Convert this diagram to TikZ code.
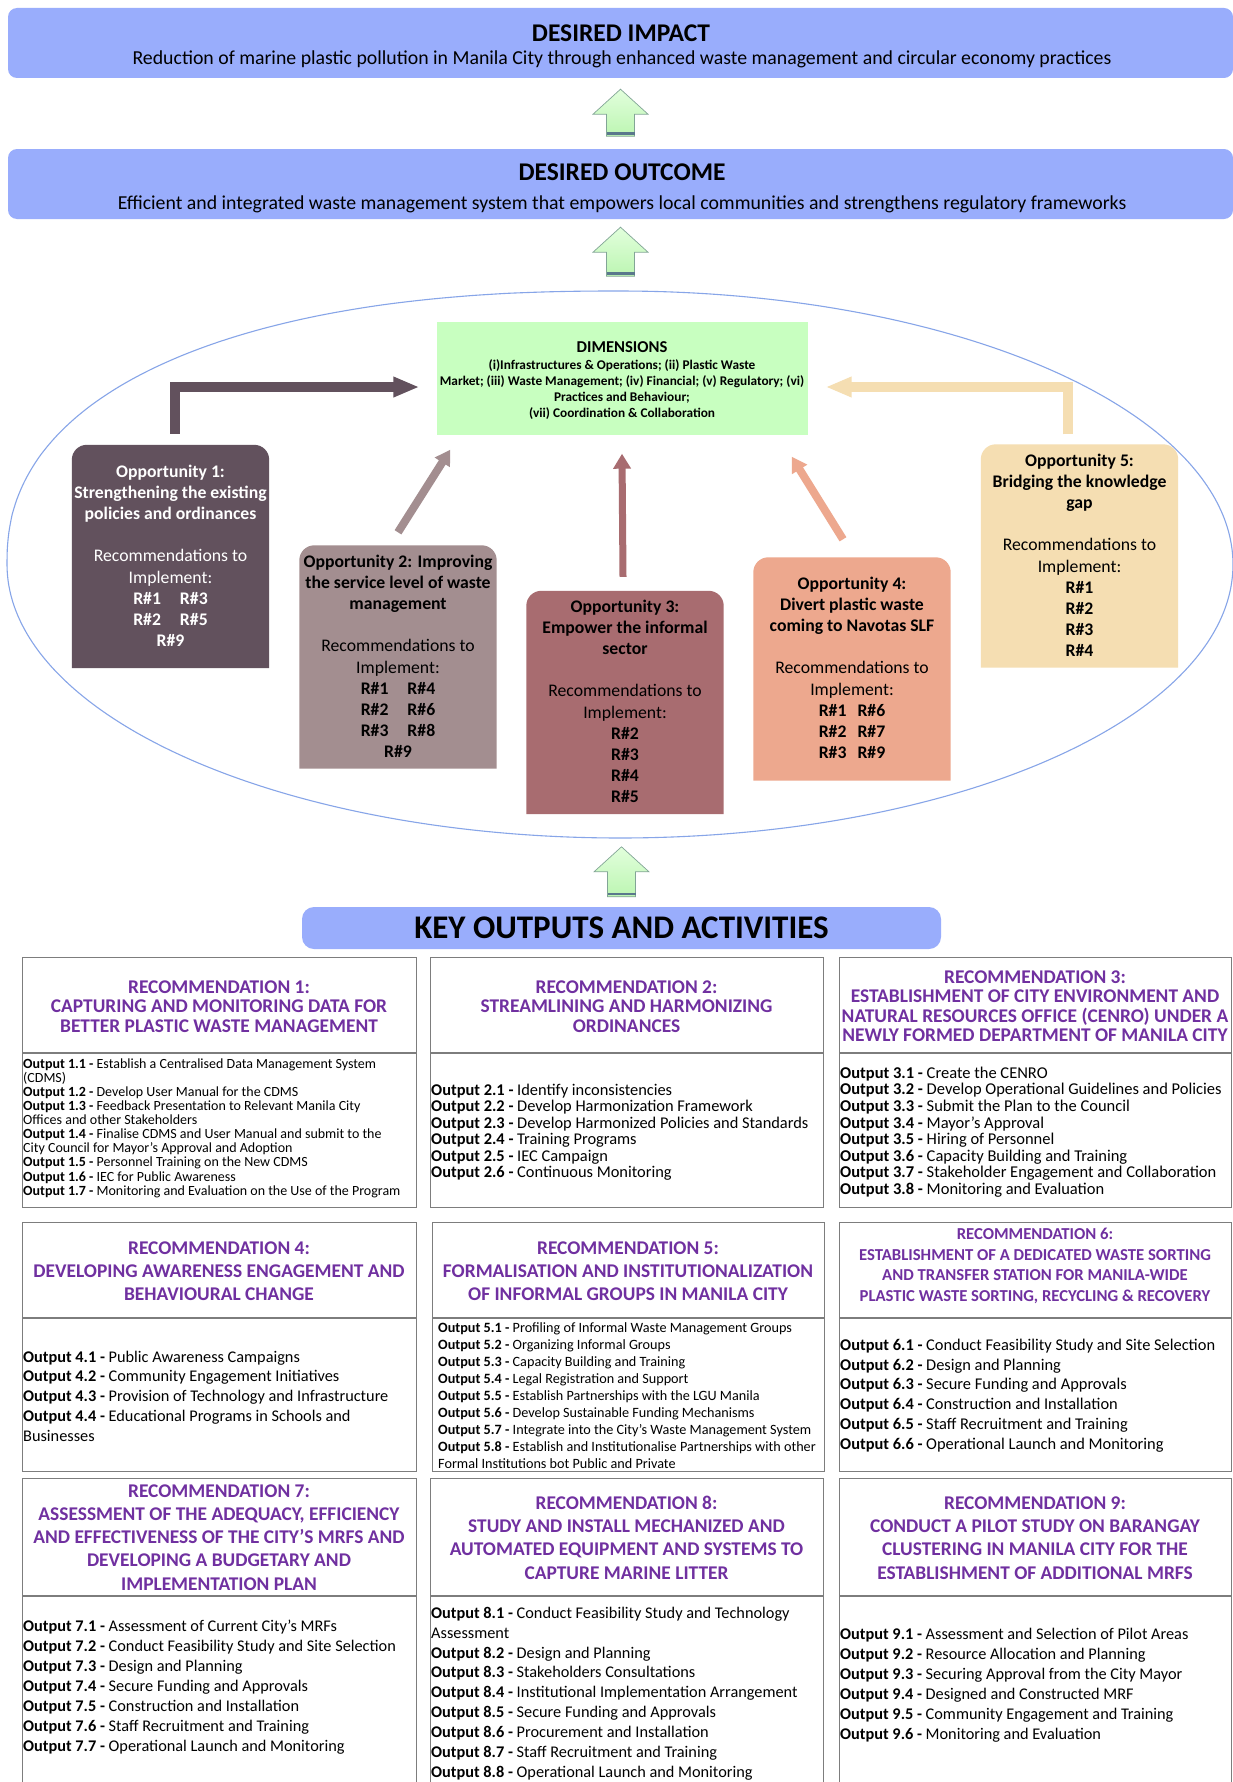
\documentclass[tikz,border=0pt]{standalone}
\usepackage{fontspec}
\setmainfont{Carlito}
\usetikzlibrary{arrows.meta}
\definecolor{peri}{RGB}{153,173,252}
\definecolor{dimg}{RGB}{200,255,192}
\definecolor{oppA}{RGB}{98,81,93}
\definecolor{oppB}{RGB}{163,142,144}
\definecolor{oppC}{RGB}{168,108,112}
\definecolor{oppD}{RGB}{237,168,142}
\definecolor{oppE}{RGB}{245,222,178}
\definecolor{recp}{RGB}{112,48,160}
\definecolor{gridc}{RGB}{125,125,125}
\definecolor{ellc}{RGB}{135,165,232}
\definecolor{gtop}{RGB}{226,255,220}
\definecolor{gbot}{RGB}{188,245,178}
\definecolor{gedge}{RGB}{130,165,150}
\definecolor{gband}{RGB}{90,120,140}
\newcommand{\setfs}[2]{\fontsize{#1pt}{#2pt}\selectfont}
\newcommand{\ob}[1]{\textbf{Output #1 -}}
\newcommand{\sr}{\rule{0pt}{0.8em}}
\newcommand{\oppfill}[2]{\fill[#2] (#1.south west) {[rounded corners=15pt] -- (#1.north west) -- (#1.north east)} -- (#1.south east) -- cycle;}
\begin{document}
\begin{tikzpicture}[x=1pt,y=-1pt,
  topbox/.style={fill=peri, rounded corners=9pt, inner sep=0pt},
  ttl/.style={font=\setfs{25.5}{30}\bfseries, anchor=base, inner sep=0pt},
  subt/.style={font=\setfs{19.8}{24}, anchor=base, inner sep=0pt},
  opptxt/.style={anchor=north, align=center, inner sep=0pt, font=\setfs{17.7}{21.2}},
  oppbox/.style={inner sep=0pt, minimum width=197pt, minimum height=223pt},
  gridbox/.style={draw=gridc, line width=1.2pt, inner sep=0pt, anchor=north west},
  divl/.style={draw=gridc, line width=1.2pt},
  rhead/.style={anchor=north, align=center, inner sep=0pt, text=recp},
  outs/.style={anchor=north west, align=left, inner sep=0pt},
  bigarr/.style={line width=10pt, line join=miter, -{Triangle[length=26pt,width=19pt]}},
  smarr/.style={line width=8pt, -{Triangle[length=15pt,width=17pt]}},
  pics/garrow/.style={code={
    \path[top color=gtop, bottom color=gbot, draw=gedge, line width=0.7pt]
      (-14,#1) -- (-14,25) -- (-27.5,25) -- (0,0) -- (27.5,25) -- (14,25) -- (14,#1) -- cycle;
    \fill[gband] (-14,#1-4) rectangle (14,#1-1.5);
  }}
]
\useasboundingbox (0,0) rectangle (1233,1782);
\fill[white] (0,0) rectangle (1233,1782);

% ---------- top boxes ----------
\node[topbox, minimum width=1225pt, minimum height=70pt] (impact) at (620.5,43) {};
\node[ttl] (impT) at (621,41.5) {DESIRED IMPACT};
\node[subt] (impS) at (622,64.5) {Reduction of marine plastic pollution in Manila City through enhanced waste management and circular economy practices};

\node[topbox, minimum width=1225pt, minimum height=70pt] (outcome) at (620.5,184) {};
\node[ttl] (outT) at (622,180) {DESIRED OUTCOME};
\node[subt] (outS) at (622,209) {Efficient and integrated waste management system that empowers local communities and strengthens regulatory frameworks};

\pic at ([yshift=-11pt]impact.south) {garrow=47};
\pic at ([yshift=-8pt]outcome.south) {garrow=49};

% ---------- ellipse ----------
\draw[ellc, line width=1.1pt]
  plot[domain=90.5:179.5, samples=60, smooth] ({620-613*abs(cos(\x))^0.87}, {564.5-273.5*abs(sin(\x))^0.87})
  -- plot[domain=180:450, samples=200, smooth] ({620+613*cos(\x)}, {564.5-273.5*sin(\x)}) -- cycle;

% ---------- dimensions ----------
\node[fill=dimg, inner sep=0pt, minimum width=371pt, minimum height=113pt] (dims) at (622,378) {};
\node[font=\setfs{16.6}{20}\bfseries, anchor=base, inner sep=0pt] (dimsT) at (622,352.5) {DIMENSIONS};
\node[font=\setfs{13.3}{16}\bfseries, anchor=north, align=center, inner sep=0pt] (dimsB) at (622,358.4)
 {\sr(i)Infrastructures \& Operations; (ii) Plastic Waste\\Market; (iii) Waste Management; (iv) Financial; (v) Regulatory; (vi)\\Practices and Behaviour;\\(vii) Coordination \& Collaboration};

% ---------- opportunity boxes ----------
\node[oppbox] (o1) at (170.5,556.5) {};
\oppfill{o1}{oppA}
\node[oppbox] (o2) at (398,657) {};
\oppfill{o2}{oppB}
\node[oppbox] (o3) at (625,702.5) {};
\oppfill{o3}{oppC}
\node[oppbox] (o4) at (852,669) {};
\oppfill{o4}{oppD}
\node[oppbox] (o5) at (1079.5,556) {};
\oppfill{o5}{oppE}

\node[opptxt, text=white] (o1t) at (170.5,462.8) {\sr\textbf{Opportunity 1:}\\\textbf{Strengthening the existing}\\\textbf{policies and ordinances}\\[21.2pt]Recommendations to\\Implement:\\\textbf{R\#1\hspace{19pt}R\#3}\\\textbf{R\#2\hspace{19pt}R\#5}\\\textbf{R\#9}};
\node[opptxt] (o2t) at (398,552.8) {\sr\textbf{Opportunity 2: Improving}\\\textbf{the service level of waste}\\\textbf{management}\\[21.2pt]Recommendations to\\Implement:\\\textbf{R\#1\hspace{19pt}R\#4}\\\textbf{R\#2\hspace{19pt}R\#6}\\\textbf{R\#3\hspace{19pt}R\#8}\\\textbf{R\#9}};
\node[opptxt] (o3t) at (625,597.8) {\sr\textbf{Opportunity 3:}\\\textbf{Empower the informal}\\\textbf{sector}\\[21.2pt]Recommendations to\\Implement:\\\textbf{R\#2}\\\textbf{R\#3}\\\textbf{R\#4}\\\textbf{R\#5}};
\node[opptxt] (o4t) at (852,574.8) {\sr\textbf{Opportunity 4:}\\\textbf{Divert plastic waste}\\\textbf{coming to Navotas SLF}\\[21.2pt]Recommendations to\\Implement:\\\textbf{R\#1\hspace{11pt}R\#6}\\\textbf{R\#2\hspace{11pt}R\#7}\\\textbf{R\#3\hspace{11pt}R\#9}};
\node[opptxt] (o5t) at (1079.5,451.8) {\sr\textbf{Opportunity 5:}\\\textbf{Bridging the knowledge}\\\textbf{gap}\\[21.2pt]Recommendations to\\Implement:\\\textbf{R\#1}\\\textbf{R\#2}\\\textbf{R\#3}\\\textbf{R\#4}};

% ---------- opportunity arrows ----------
\coordinate (a1s) at ([xshift=4.5pt,yshift=11pt]o1.north);
\coordinate (a1e) at ([xshift=-17pt,yshift=-9pt]dims.west);
\draw[bigarr, draw=oppA] (a1s) |- (a1e);
\coordinate (a5s) at ([xshift=-11.5pt,yshift=10pt]o5.north);
\coordinate (a5e) at ([xshift=18pt,yshift=-9pt]dims.east);
\draw[bigarr, draw=oppE] (a5s) |- (a5e);
\coordinate (a2s) at ([yshift=13pt]o2.north);
\coordinate (a2e) at ([xshift=14pt,yshift=-15pt]dims.south west);
\draw[smarr, draw=oppB] (a2s) -- (a2e);
\coordinate (a3s) at ([xshift=-2pt,yshift=14pt]o3.north);
\coordinate (a3e) at ([yshift=-19pt]dims.south);
\draw[smarr, line width=7pt, draw=oppC] (a3s) -- (a3e);
\coordinate (a4s) at ([xshift=-9pt,yshift=18pt]o4.north);
\coordinate (a4e) at ([xshift=-16pt,yshift=-22pt]dims.south east);
\draw[smarr, draw=oppD] (a4s) -- (a4e);

% ---------- key outputs banner ----------
\node[fill=peri, rounded corners=12pt, inner sep=0pt, minimum width=639pt, minimum height=42pt] (banner) at (621.5,928) {};
\node[font=\setfs{33}{38}\bfseries, anchor=base, inner sep=0pt] (bannerT) at (621.5,938) {KEY OUTPUTS AND ACTIVITIES};
\pic at ([yshift=60pt]banner.north) {garrow=50};

% ---------- recommendation grid ----------
\node[gridbox, minimum width=394pt, minimum height=250pt] (r1) at (22,957) {};
\node[gridbox, minimum width=393pt, minimum height=250pt] (r2) at (430,957) {};
\node[gridbox, minimum width=392pt, minimum height=250pt] (r3) at (839,957) {};
\node[gridbox, minimum width=394pt, minimum height=249pt] (r4) at (22,1222) {};
\node[gridbox, minimum width=392pt, minimum height=249pt] (r5) at (432,1222) {};
\node[gridbox, minimum width=392pt, minimum height=249pt] (r6) at (839,1222) {};
\node[gridbox, minimum width=394pt, minimum height=320pt] (r7) at (22,1478) {};
\node[gridbox, minimum width=393pt, minimum height=320pt] (r8) at (430,1478) {};
\node[gridbox, minimum width=392pt, minimum height=320pt] (r9) at (839,1478) {};
\foreach \b in {r1,r2,r3} {\draw[divl] ([yshift=-96pt]\b.north west) -- ([yshift=-96pt]\b.north east);}
\foreach \b in {r4,r5,r6} {\draw[divl] ([yshift=-96pt]\b.north west) -- ([yshift=-96pt]\b.north east);}
\foreach \b in {r7,r8,r9} {\draw[divl] ([yshift=-118pt]\b.north west) -- ([yshift=-118pt]\b.north east);}

% headers
\node[rhead, font=\setfs{19.4}{19.5}\bfseries] (h1) at (219,977.5) {\sr RECOMMENDATION 1:\\CAPTURING AND MONITORING DATA FOR\\BETTER PLASTIC WASTE MANAGEMENT};
\node[rhead, font=\setfs{19.4}{19.5}\bfseries] (h2) at (626.5,977.5) {\sr RECOMMENDATION 2:\\STREAMLINING AND HARMONIZING\\ORDINANCES};
\node[rhead, font=\setfs{19.4}{19.5}\bfseries] (h3) at (1035,967.5) {\sr RECOMMENDATION 3:\\ESTABLISHMENT OF CITY ENVIRONMENT AND\\NATURAL RESOURCES OFFICE (CENRO) UNDER A\\NEWLY FORMED DEPARTMENT OF MANILA CITY};
\node[rhead, font=\setfs{19.4}{23}\bfseries] (h4) at (219,1238.5) {\sr RECOMMENDATION 4:\\DEVELOPING AWARENESS ENGAGEMENT AND\\BEHAVIOURAL CHANGE};
\node[rhead, font=\setfs{19.4}{23}\bfseries] (h5) at (628,1238.5) {\sr RECOMMENDATION 5:\\FORMALISATION AND INSTITUTIONALIZATION\\OF INFORMAL GROUPS IN MANILA CITY};
\node[rhead, font=\setfs{16.7}{20.6}\bfseries] (h6) at (1035,1226) {\sr RECOMMENDATION 6:\\ESTABLISHMENT OF A DEDICATED WASTE SORTING\\AND TRANSFER STATION FOR MANILA-WIDE\\PLASTIC WASTE SORTING, RECYCLING \& RECOVERY};
\node[rhead, font=\setfs{19.4}{23.2}\bfseries] (h7) at (219,1481.5) {\sr RECOMMENDATION 7:\\ASSESSMENT OF THE ADEQUACY, EFFICIENCY\\AND EFFECTIVENESS OF THE CITY’S MRFS AND\\DEVELOPING A BUDGETARY AND\\IMPLEMENTATION PLAN};
\node[rhead, font=\setfs{19.4}{23.3}\bfseries] (h8) at (626.5,1493.5) {\sr RECOMMENDATION 8:\\STUDY AND INSTALL MECHANIZED AND\\AUTOMATED EQUIPMENT AND SYSTEMS TO\\CAPTURE MARINE LITTER};
\node[rhead, font=\setfs{19.4}{23.3}\bfseries] (h9) at (1035,1493.5) {\sr RECOMMENDATION 9:\\CONDUCT A PILOT STUDY ON BARANGAY\\CLUSTERING IN MANILA CITY FOR THE\\ESTABLISHMENT OF ADDITIONAL MRFS};

% outputs
\node[outs, font=\setfs{14}{14.1}] (t1) at (23,1056.8) {\sr\ob{1.1} Establish a Centralised Data Management System\\(CDMS)\\\ob{1.2} Develop User Manual for the CDMS\\\ob{1.3} Feedback Presentation to Relevant Manila City\\Offices and other Stakeholders\\\ob{1.4} Finalise CDMS and User Manual and submit to the\\City Council for Mayor's Approval and Adoption\\\ob{1.5} Personnel Training on the New CDMS\\\ob{1.6} IEC for Public Awareness\\\ob{1.7} Monitoring and Evaluation on the Use of the Program};
\node[outs, font=\setfs{16.4}{16.5}] (t2) at (431,1081.9) {\sr\ob{2.1} Identify inconsistencies\\\ob{2.2} Develop Harmonization Framework\\\ob{2.3} Develop Harmonized Policies and Standards\\\ob{2.4} Training Programs\\\ob{2.5} IEC Campaign\\\ob{2.6} Continuous Monitoring};
\node[outs, font=\setfs{16.5}{16.6}] (t3) at (840,1064.8) {\sr\ob{3.1} Create the CENRO\\\ob{3.2} Develop Operational Guidelines and Policies\\\ob{3.3} Submit the Plan to the Council\\\ob{3.4} Mayor’s Approval\\\ob{3.5} Hiring of Personnel\\\ob{3.6} Capacity Building and Training\\\ob{3.7} Stakeholder Engagement and Collaboration\\\ob{3.8} Monitoring and Evaluation};
\node[outs, font=\setfs{16.3}{19.7}] (t4) at (23,1349) {\sr\ob{4.1} Public Awareness Campaigns\\\ob{4.2} Community Engagement Initiatives\\\ob{4.3} Provision of Technology and Infrastructure\\\ob{4.4} Educational Programs in Schools and\\Businesses};
\node[outs, font=\setfs{14.2}{17}] (t5) at (438,1320.6) {\sr\ob{5.1} Profiling of Informal Waste Management Groups\\\ob{5.2} Organizing Informal Groups\\\ob{5.3} Capacity Building and Training\\\ob{5.4} Legal Registration and Support\\\ob{5.5} Establish Partnerships with the LGU Manila\\\ob{5.6} Develop Sustainable Funding Mechanisms\\\ob{5.7} Integrate into the City's Waste Management System\\\ob{5.8} Establish and Institutionalise Partnerships with other\\Formal Institutions bot Public and Private};
\node[outs, font=\setfs{16.4}{19.8}] (t6) at (840,1336.9) {\sr\ob{6.1} Conduct Feasibility Study and Site Selection\\\ob{6.2} Design and Planning\\\ob{6.3} Secure Funding and Approvals\\\ob{6.4} Construction and Installation\\\ob{6.5} Staff Recruitment and Training\\\ob{6.6} Operational Launch and Monitoring};
\node[outs, font=\setfs{16.3}{20}] (t7) at (23,1618) {\sr\ob{7.1} Assessment of Current City's MRFs\\\ob{7.2} Conduct Feasibility Study and Site Selection\\\ob{7.3} Design and Planning\\\ob{7.4} Secure Funding and Approvals\\\ob{7.5} Construction and Installation\\\ob{7.6} Staff Recruitment and Training\\\ob{7.7} Operational Launch and Monitoring};
\node[outs, font=\setfs{16.3}{19.9}] (t8) at (431,1605) {\sr\ob{8.1} Conduct Feasibility Study and Technology\\Assessment\\\ob{8.2} Design and Planning\\\ob{8.3} Stakeholders Consultations\\\ob{8.4} Institutional Implementation Arrangement\\\ob{8.5} Secure Funding and Approvals\\\ob{8.6} Procurement and Installation\\\ob{8.7} Staff Recruitment and Training\\\ob{8.8} Operational Launch and Monitoring};
\node[outs, font=\setfs{16.3}{20}] (t9) at (840,1626) {\sr\ob{9.1} Assessment and Selection of Pilot Areas\\\ob{9.2} Resource Allocation and Planning\\\ob{9.3} Securing Approval from the City Mayor\\\ob{9.4} Designed and Constructed MRF\\\ob{9.5} Community Engagement and Training\\\ob{9.6} Monitoring and Evaluation};
\end{tikzpicture}
\end{document}
